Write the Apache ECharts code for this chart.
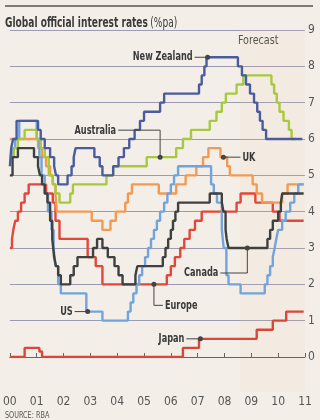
<!DOCTYPE html>
<html><head><meta charset="utf-8">
<script src="https://cdn.jsdelivr.net/npm/echarts/dist/echarts.min.js"></script>
<style>html,body{margin:0;padding:0;background:#f3efe8;}#c{width:320px;height:420px;}</style>
</head><body><div id="c"></div>
<script>
// ---- data (x = years since 2000, y = % pa) ----
const xLabels = ['00','01','02','03','04','05','06','07','08','09','10','11'];
const yTicks = [0,1,2,3,4,5,6,7,8,9];
const forecastStart = 8.55;

const newZealand = [[0,5.25],[0.05,5.75],[0.12,6.0],[0.25,6.5],[1.05,6.25],[1.15,6.0],[1.3,5.75],[1.5,5.5],[1.65,5.25],[1.72,5.0],[1.8,4.75],[2.15,5.0],[2.3,5.25],[2.38,5.5],[2.45,5.75],[3.15,5.5],[3.35,5.25],[3.45,5.0],[3.85,5.25],[4.05,5.5],[4.25,5.75],[4.45,6.0],[4.65,6.25],[4.85,6.5],[5.0,6.75],[5.6,7.0],[5.75,7.25],[7.05,7.5],[7.15,7.75],[7.25,8.0],[7.33,8.25],[8.5,8.0],[8.65,7.75],[8.8,7.5],[8.95,7.25],[9.1,7.0],[9.22,6.75],[9.32,6.5],[9.42,6.25],[9.55,6.0],[10.9,6.0]];
const australia = [[0,5.5],[0.15,5.75],[0.3,6.0],[0.55,6.25],[1.0,6.0],[1.15,5.75],[1.3,5.5],[1.45,5.0],[1.6,4.75],[1.7,4.5],[1.85,4.25],[2.25,4.5],[2.35,4.75],[3.6,5.0],[3.85,5.25],[5.1,5.5],[6.2,5.75],[6.45,6.0],[6.75,6.25],[7.45,6.5],[7.7,6.75],[7.9,7.0],[8.05,7.25],[8.45,7.5],[8.7,7.75],[9.75,7.5],[9.85,7.25],[9.95,7.0],[10.05,6.75],[10.2,6.5],[10.4,6.25],[10.5,6.0],[10.65,6.0]];
const uk = [[0,6.0],[1.05,5.75],[1.2,5.5],[1.35,5.25],[1.5,5.0],[1.6,4.75],[1.7,4.5],[1.75,4.0],[3.05,3.75],[3.45,3.5],[3.75,3.75],[3.95,4.0],[4.3,4.25],[4.4,4.5],[4.55,4.75],[5.55,4.5],[6.2,4.75],[6.55,5.0],[6.95,5.25],[7.2,5.5],[7.4,5.75],[7.85,5.5],[8.1,5.25],[8.2,5.0],[9.05,4.75],[9.2,4.5],[9.4,4.25],[10.15,4.5],[10.35,4.75],[10.95,4.75]];
const us = [[0,5.5],[0.1,5.75],[0.2,6.0],[0.35,6.5],[1.0,6.0],[1.1,5.5],[1.18,5.0],[1.3,4.5],[1.42,4.0],[1.55,3.5],[1.63,3.0],[1.7,2.5],[1.8,2.0],[1.9,1.75],[2.85,1.25],[3.45,1.0],[4.4,1.25],[4.5,1.5],[4.6,1.75],[4.72,2.0],[4.82,2.25],[4.93,2.5],[5.04,2.75],[5.15,3.0],[5.26,3.25],[5.37,3.5],[5.48,3.75],[5.6,4.0],[5.75,4.25],[5.87,4.5],[6.0,4.75],[6.12,5.0],[6.27,5.25],[7.5,4.75],[7.6,4.5],[7.72,4.25],[7.9,3.5],[7.97,3.0],[8.07,2.25],[8.15,2.0],[8.6,1.75],[9.5,2.0],[9.6,2.25],[9.7,2.5],[9.8,2.75],[9.87,3.0],[9.93,3.25],[10.0,3.5],[10.15,3.75],[10.28,4.0],[10.45,4.25],[10.6,4.5],[10.75,4.75],[10.95,4.75]];
const canada = [[0,5.0],[0.1,5.5],[0.3,5.75],[0.9,5.5],[1.05,5.25],[1.12,5.0],[1.2,4.75],[1.3,4.5],[1.4,4.25],[1.5,3.75],[1.58,3.25],[1.65,2.75],[1.72,2.5],[1.8,2.25],[1.9,2.0],[2.25,2.25],[2.38,2.5],[2.52,2.75],[3.1,3.0],[3.25,3.25],[3.45,3.0],[3.65,2.75],[3.9,2.5],[4.05,2.25],[4.2,2.0],[4.68,2.25],[4.75,2.5],[5.7,2.75],[5.8,3.0],[5.9,3.25],[6.0,3.5],[6.08,3.75],[6.17,4.0],[6.27,4.25],[7.45,4.5],[7.9,4.25],[7.96,4.0],[8.04,3.5],[8.08,3.25],[8.15,3.0],[9.6,3.25],[9.7,3.5],[9.8,3.75],[10.0,4.0],[10.1,4.25],[10.15,4.5],[10.95,4.5]];
const europe = [[0,3.0],[0.08,3.25],[0.13,3.5],[0.2,3.75],[0.3,4.0],[0.42,4.25],[0.55,4.5],[0.7,4.75],[1.35,4.5],[1.6,4.25],[1.7,3.75],[1.85,3.25],[2.9,2.75],[3.2,2.5],[3.45,2.0],[5.85,2.25],[6.0,2.5],[6.15,2.75],[6.35,3.0],[6.5,3.25],[6.7,3.5],[6.9,3.75],[7.15,4.0],[8.45,4.25],[8.6,4.5],[9.15,4.25],[9.8,4.0],[10.05,3.75],[10.95,3.75]];
const japan = [[0,0],[0.55,0.25],[1.1,0.15],[1.2,0],[6.45,0.25],[7.05,0.5],[9.2,0.75],[9.8,1.0],[10.3,1.25],[10.95,1.25]];

// label anchors (data coords on each line)
const labelNames = ['New Zealand','Australia','UK','Canada','Europe','US','Japan'];
const labelAnchors = [[7.37,8.25],[5.6,5.5],[7.96,5.5],[8.85,3.0],[5.37,2.0],[2.9,1.25],[7.1,0.5]];

const FONT = "'Liberation Sans Narrow','DejaVu Sans Condensed','Roboto Condensed',sans-serif";
const chart = echarts.init(document.getElementById('c'));

function ser(name, data, color, z, w){
  return {name, type:'line', step:'end', data, symbol:'none', z, silent:true,
    lineStyle:{color, width:w||2.4}, animation:false};
}

chart.setOption({
  animation:false,
  backgroundColor:'#f3efe8',
  grid:{left:8, right:15, top:30, height:327},
  xAxis:{type:'value', min:0, max:11, interval:1, offset:35,
    axisLine:{lineStyle:{color:'#666', width:1}},
    axisTick:{inside:true, length:4, lineStyle:{color:'#666'}},
    axisLabel:{formatter:v=>xLabels[v]||'', color:'#555', fontFamily:FONT, fontSize:12, margin:4},
    splitLine:{show:false}},
  yAxis:{type:'value', position:'right', min:yTicks[0], max:yTicks[yTicks.length-1], interval:1,
    axisLine:{show:false}, axisTick:{show:false},
    axisLabel:{color:'#555', fontFamily:FONT, fontSize:12, margin:3},
    splitLine:{lineStyle:{color:'#9c9ab2', width:1}}},
  series:[
    ser('Japan', japan, '#d8473a', 2),
    ser('Europe', europe, '#e2473b', 3),
    ser('UK', uk, '#f39a52', 4),
    ser('US', us, '#72a4dc', 5),
    ser('Australia', australia, '#a8c93f', 6),
    ser('Canada', canada, '#404040', 7),
    ser('New Zealand', newZealand, '#4b5c9e', 8)
  ]
});

// annotation geometry (pixel offsets from the anchor point)
const paths = [
  {pts:[[0,0],[-13,0]], tx:-15, ty:-1, align:'right'},
  {pts:[[0,0],[0,-27],[-42,-27]], tx:-44, ty:-27, align:'right'},
  {pts:[[0,0],[17,0]], tx:19, ty:0, align:'left'},
  {pts:[[0,0],[0,25],[-27,25]], tx:-29, ty:25, align:'right'},
  {pts:[[0,0],[0,21],[9,21]], tx:11, ty:21, align:'left'},
  {pts:[[0,0],[-13,0]], tx:-15, ty:0, align:'right'},
  {pts:[[0,0],[-14,0]], tx:-16, ty:0, align:'right'}
];
const g = [];
const fx = chart.convertToPixel({gridIndex:0}, [forecastStart, 9]);
const fr = chart.convertToPixel({gridIndex:0}, [11, 0]);
g.push({type:'rect', z:0, shape:{x:fx[0], y:fx[1], width:fr[0]-fx[0], height:392-fx[1]}, style:{fill:'rgba(240,205,160,0.09)'}});
const fp = chart.convertToPixel({gridIndex:0}, [8.5, 8.7]);
g.push({type:'text', z:20, x:fp[0], y:fp[1], scaleX:0.82, style:{text:'Forecast', fill:'#555', font:"13px "+FONT, textVerticalAlign:'middle'}});
labelNames.forEach((n,i)=>{
  const p = chart.convertToPixel({gridIndex:0}, labelAnchors[i]);
  const d = paths[i];
  g.push({type:'polyline', z:20, shape:{points:d.pts.map(q=>[p[0]+q[0], p[1]+q[1]])}, style:{stroke:'#444', lineWidth:1, fill:null}});
  g.push({type:'circle', z:21, shape:{cx:p[0], cy:p[1], r:2.5}, style:{fill:'#444'}});
  g.push({type:'text', z:21, x:p[0]+d.tx, y:p[1]+d.ty, scaleX:0.7, style:{text:n, fill:'#3a3a3a', font:"bold 13px "+FONT, textAlign:d.align, textVerticalAlign:'middle'}});
});
// header
g.push({type:'line', z:20, shape:{x1:5, y1:6, x2:313, y2:6}, style:{stroke:'#555', lineWidth:1.5}});
g.push({type:'text', z:20, x:5, y:23, scaleX:0.72, style:{text:'{b|Global official interest rates} {r|(%pa)}', textVerticalAlign:'middle',
  rich:{b:{font:"bold 14px "+FONT, fill:'#3a3a3a'}, r:{font:"14px "+FONT, fill:'#3a3a3a'}}}});
g.push({type:'text', z:20, x:5, y:416, scaleX:0.9, style:{text:'SOURCE: RBA', fill:'#555', font:"8px "+FONT, textVerticalAlign:'middle'}});
chart.setOption({graphic:g});
</script></body></html>
